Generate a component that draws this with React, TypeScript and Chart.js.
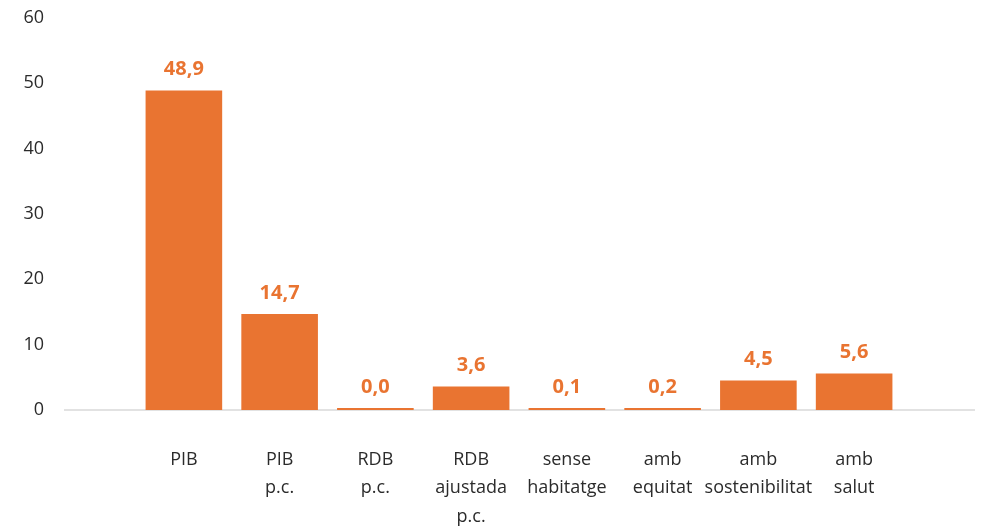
import React, { useEffect, useRef } from "react";
import { Chart, registerables } from "chart.js";

Chart.register(...registerables);

const categories: string[][] = [
  ["PIB"],
  ["PIB", "p.c."],
  ["RDB", "p.c."],
  ["RDB", "ajustada", "p.c."],
  ["sense", "habitatge"],
  ["amb", "equitat"],
  ["amb", "sostenibilitat"],
  ["amb", "salut"],
];
const values: number[] = [48.9, 14.7, 0.0, 3.6, 0.1, 0.2, 4.5, 5.6];
const yTicks: number[] = [0, 10, 20, 30, 40, 50, 60];

const ORANGE = "#E97431";
const FONT = "'Open Sans', 'DejaVu Sans', sans-serif";

const valueLabels = {
  id: "valueLabels",
  afterDatasetsDraw(chart: any) {
    const ctx = chart.ctx;
    const meta = chart.getDatasetMeta(0);
    ctx.save();
    ctx.fillStyle = ORANGE;
    ctx.font = `bold 20px ${FONT}`;
    ctx.textAlign = "center";
    ctx.textBaseline = "middle";
    meta.data.forEach((bar: any, i: number) => {
      const txt = values[i].toFixed(1).replace(".", ",");
      ctx.fillText(txt, bar.x, bar.y - 21);
    });
    ctx.restore();
  },
};

const baseline = {
  id: "baseline",
  beforeDatasetsDraw(chart: any) {
    const ctx = chart.ctx;
    const y = chart.scales.y.getPixelForValue(0);
    ctx.save();
    ctx.strokeStyle = "#D9D9D9";
    ctx.lineWidth = 1.5;
    ctx.beginPath();
    ctx.moveTo(64, y);
    ctx.lineTo(975, y);
    ctx.stroke();
    ctx.restore();
  },
};

export default function App() {
  const ref = useRef<HTMLCanvasElement | null>(null);
  useEffect(() => {
    if (!ref.current) return;
    const chart = new Chart(ref.current, {
      type: "bar",
      data: {
        labels: categories as any,
        datasets: [
          {
            data: values,
            backgroundColor: ORANGE,
            barPercentage: 0.8,
            categoryPercentage: 1,
            minBarLength: 2,
          },
        ],
      },
      options: {
        animation: false,
        responsive: true,
        maintainAspectRatio: false,
        layout: { padding: { top: 18, right: 80, left: 0, bottom: 0 } },
        plugins: { legend: { display: false }, tooltip: { enabled: false } },
        scales: {
          x: {
            grid: { display: false },
            border: { display: false },
            ticks: {
              color: "#2b2b2b",
              font: { family: FONT, size: 18, lineHeight: 1.6 },
              padding: 27,
              maxRotation: 0,
              autoSkip: false,
            },
            afterFit(scale: any) {
              scale.height = 116;
              scale.paddingLeft = 0;
              scale.paddingRight = 0;
            },
          },
          y: {
            min: 0,
            max: 60,
            grid: { display: false },
            border: { display: false },
            afterBuildTicks(scale: any) {
              scale.ticks = yTicks.map((v) => ({ value: v }));
            },
            ticks: {
              color: "#2b2b2b",
              font: { family: FONT, size: 18 },
              padding: 84,
            },
            afterFit(scale: any) {
              scale.width = 136;
              scale.paddingTop = 0;
              scale.paddingBottom = 0;
            },
          },
        },
      },
      plugins: [baseline, valueLabels],
    });
    return () => chart.destroy();
  }, []);
  return (
    <div style={{ position: "fixed", left: 0, top: 0, width: 982, height: 526, background: "#fff" }}>
      <canvas ref={ref} />
    </div>
  );
}
